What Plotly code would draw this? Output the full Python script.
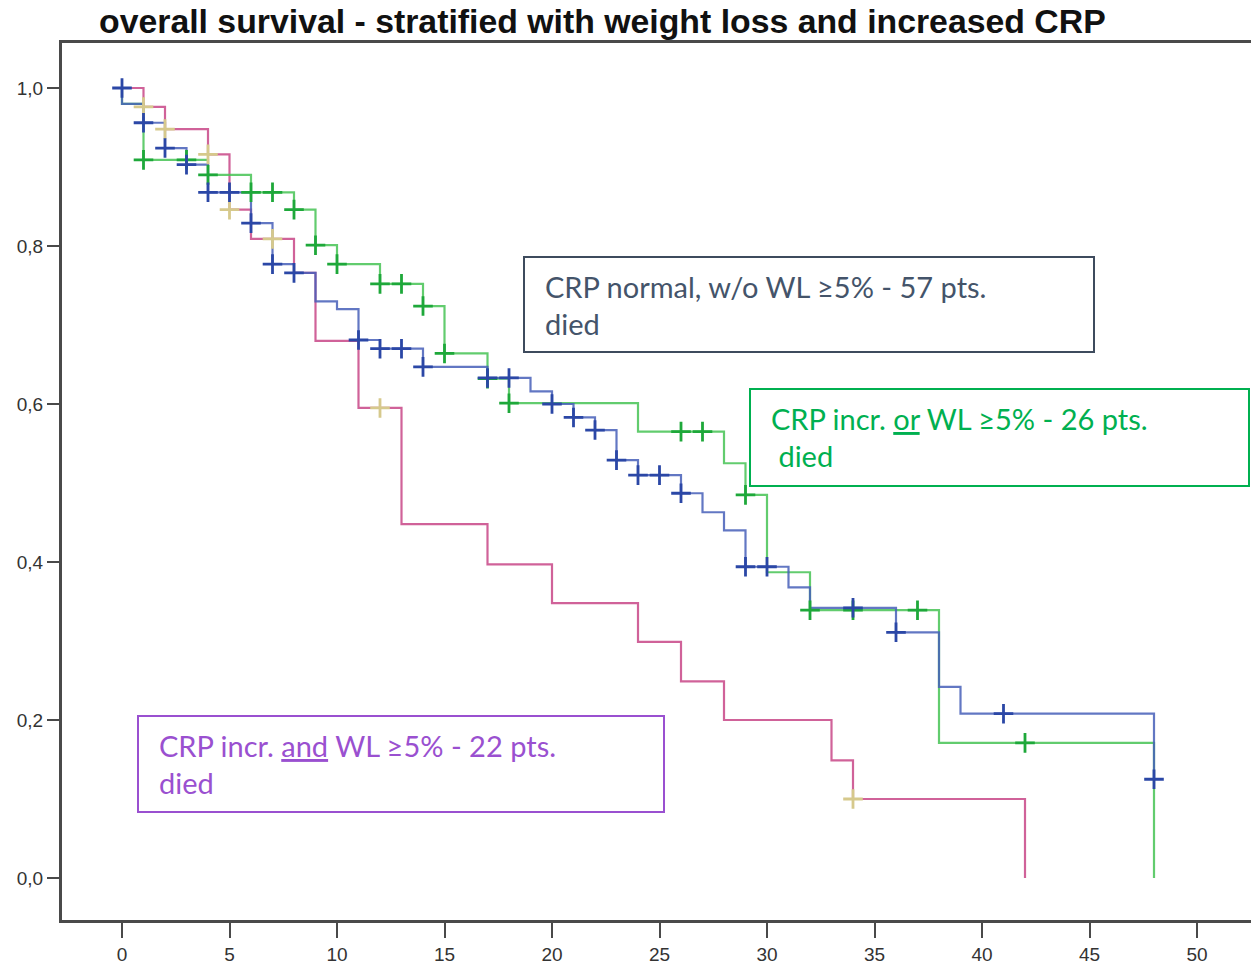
import plotly.graph_objects as go

# ---- data ----
# magenta group: CRP incr. and WL >=5%
mag_t = [0, 1, 2, 4, 5, 6, 8, 9, 11, 13, 17, 20, 24, 26, 28, 33, 34, 42]
mag_s = [1.0, 0.976, 0.948, 0.916, 0.846, 0.809, 0.766, 0.68, 0.595, 0.448,
         0.397, 0.348, 0.299, 0.249, 0.2, 0.149, 0.1, 0.0]
mag_cens_t = [1, 2, 4, 5, 7, 12, 34]
mag_cens_s = [0.976, 0.948, 0.916, 0.846, 0.809, 0.595, 0.1]

# blue group: CRP normal, w/o WL
blue_t = [0, 0, 1, 2, 3, 4, 6, 7, 8, 9, 10, 11, 12, 14, 17, 19, 20, 21, 22, 23,
          24, 26, 27, 28, 29, 31, 32, 36, 38, 39, 48]
blue_s = [1.0, 0.98, 0.956, 0.924, 0.903, 0.868, 0.829, 0.777, 0.766, 0.73, 0.72,
          0.681, 0.67, 0.647, 0.633, 0.616, 0.6, 0.583, 0.567, 0.529, 0.51, 0.487,
          0.463, 0.44, 0.394, 0.368, 0.342, 0.311, 0.242, 0.208, 0.125]
blue_cens_t = [0, 1, 2, 3, 4, 5, 6, 7, 8, 11, 12, 13, 14, 17, 18, 20, 21, 22, 23,
               24, 25, 26, 29, 30, 34, 36, 41, 48]
blue_cens_s = [1.0, 0.956, 0.924, 0.903, 0.868, 0.868, 0.829, 0.777, 0.766, 0.681,
               0.67, 0.67, 0.647, 0.633, 0.633, 0.6, 0.583, 0.567, 0.529, 0.51,
               0.51, 0.487, 0.394, 0.394, 0.342, 0.311, 0.208, 0.125]

# green group: CRP incr. or WL >=5%
green_t = [0, 0, 1, 4, 6, 8, 9, 10, 12, 14, 15, 17, 18, 24, 28, 29, 30, 32, 38, 48]
green_s = [1.0, 0.98, 0.909, 0.89, 0.868, 0.846, 0.801, 0.777, 0.752, 0.724, 0.664,
           0.632, 0.601, 0.565, 0.525, 0.485, 0.387, 0.339, 0.171, 0.0]
green_cens_t = [1, 3, 4, 6, 7, 8, 9, 10, 12, 13, 14, 15, 17, 18, 26, 27, 29, 32,
                34, 37, 42]
green_cens_s = [0.909, 0.909, 0.89, 0.868, 0.868, 0.846, 0.801, 0.777, 0.752, 0.752,
                0.724, 0.664, 0.632, 0.601, 0.565, 0.565, 0.485, 0.339, 0.339,
                0.339, 0.171]

x_ticks = [0, 5, 10, 15, 20, 25, 30, 35, 40, 45, 50]
y_ticks = [0.0, 0.2, 0.4, 0.6, 0.8, 1.0]

title_text = "overall survival - stratified with weight loss and increased CRP"
box_texts = [
    ("CRP normal, w/o WL \u22655% - 57 pts.", "died"),
    ("CRP incr. <u>or</u> WL \u22655% - 26 pts.", " died"),
    ("CRP incr. <u>and</u> WL \u22655% - 22 pts.", "died"),
]

# ---- styles ----
MAG = "rgba(200,70,135,0.85)"
MAG_C = "#d6c98c"
BLUE = "rgba(70,95,185,0.85)"
BLUE_C = "#2b47a6"
GREEN = "rgba(70,195,85,0.85)"
GREEN_C = "#1ea83a"

W, H = 1251, 964
L, R, T, B = 62, 0, 43, 44
PW, PH = W - L - R, H - T - B


def px(x):
    return (x - L) / PW


def py(y):
    return (H - B - y) / PH


fig = go.Figure()

for t, s, c in [(mag_t, mag_s, MAG), (green_t, green_s, GREEN), (blue_t, blue_s, BLUE)]:
    fig.add_trace(go.Scatter(x=t, y=s, mode="lines", line=dict(color=c, width=2.2, shape="hv"),
                             hoverinfo="skip", showlegend=False))

for t, s, c in [(mag_cens_t, mag_cens_s, MAG_C), (green_cens_t, green_cens_s, GREEN_C),
                (blue_cens_t, blue_cens_s, BLUE_C)]:
    fig.add_trace(go.Scatter(x=t, y=s, mode="markers",
                             marker=dict(symbol="cross-thin", size=14,
                                         line=dict(color=c, width=2.8)),
                             hoverinfo="skip", showlegend=False))

# text boxes (pixel geometry)
boxes = [
    dict(x0=524, y0=257, x1=1094, y1=352, col="#3e4b5d", txt="#44546a",
         l1=(543, 286), l2=(543, 323)),
    dict(x0=750, y0=389, x1=1249, y1=486, col="#00b050", txt="#00b050",
         l1=(769, 418), l2=(769, 455)),
    dict(x0=138, y0=716, x1=664, y1=812, col="#9a50d0", txt="#9a50d0",
         l1=(157, 745), l2=(157, 782)),
]
for b, (t1, t2) in zip(boxes, box_texts):
    fig.add_shape(type="rect", xref="paper", yref="paper",
                  x0=px(b["x0"]), x1=px(b["x1"]), y0=py(b["y1"]), y1=py(b["y0"]),
                  line=dict(color=b["col"], width=2), fillcolor="rgba(0,0,0,0)")
    for txt, (xx, yy) in [(t1, b["l1"]), (t2, b["l2"])]:
        fig.add_annotation(text=txt, xref="paper", yref="paper", x=px(xx), y=py(yy),
                           xanchor="left", yanchor="middle", showarrow=False,
                           font=dict(family="Lato", size=29, color=b["txt"]))

fig.add_annotation(text="<b>" + title_text + "</b>", xref="paper", yref="paper",
                   x=px(97), y=py(21), xanchor="left", yanchor="middle", showarrow=False,
                   font=dict(family="Liberation Sans", size=33.8, color="#111111"))

fig.update_layout(
    width=W, height=H,
    margin=dict(l=L, r=R, t=T, b=B, pad=0),
    paper_bgcolor="white", plot_bgcolor="white",
    separators=",.",
    xaxis=dict(range=[(L - 122) / 21.5, (W - 122) / 21.5], tickvals=x_ticks,
               ticktext=[str(v) for v in x_ticks],
               showgrid=False, zeroline=False, showline=True, mirror=True,
               linecolor="#4a4a4a", linewidth=3, ticks="outside", ticklen=15,
               tickwidth=2, tickcolor="#4a4a4a",
               tickfont=dict(family="Liberation Sans", size=19, color="#333333")),
    yaxis=dict(range=[(878 - (H - B)) / 790, (878 - T) / 790], tickvals=y_ticks,
               tickformat=".1f",
               showgrid=False, zeroline=False, showline=True, mirror=False,
               linecolor="#4a4a4a", linewidth=3, ticks="outside", ticklen=12,
               tickwidth=2, tickcolor="#4a4a4a",
               tickfont=dict(family="Liberation Sans", size=19, color="#333333")),
)

fig.write_html("out.html")
